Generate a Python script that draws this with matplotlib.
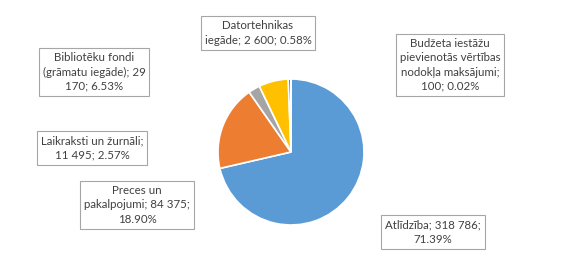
import matplotlib
matplotlib.use("Agg")
import matplotlib.pyplot as plt

# Budget structure (EUR)
categories = ["Atlīdzība", "Preces un pakalpojumi", "Laikraksti un žurnāli",
              "Bibliotēku fondi (grāmatu iegāde)", "Datortehnikas iegāde",
              "Budžeta iestāžu pievienotās vērtības nodokļa maksājumi"]
values = [318786, 84375, 11495, 29170, 2600, 100]
percents = ["71.39%", "18.90%", "2.57%", "6.53%", "0.58%", "0.02%"]
labels = [
    "Atlīdzība; 318 786;\n71.39%",
    "Preces un\npakalpojumi; 84 375;\n18.90%",
    "Laikraksti un žurnāli;\n11 495; 2.57%",
    "Bibliotēku fondi\n(grāmatu iegāde); 29\n170; 6.53%",
    "Datortehnikas\niegāde; 2 600; 0.58%",
    "Budžeta iestāžu\npievienotās vērtības\nnodokļa maksājumi;\n100; 0.02%",
]
colors = ["#5B9BD5", "#ED7D31", "#A5A5A5", "#FFC000", "#4472C4", "#70AD47"]

# label box centres in figure pixels (from top-left)
label_pos = [(433, 232), (137, 205), (92, 148), (94, 72), (258, 33), (450, 65)]

W, H = 576, 268
plt.rcParams["font.family"] = ["Lato", "DejaVu Sans"]
fig = plt.figure(figsize=(W / 100, H / 100), dpi=100)

cx, cy, r = 291, 152, 73
ax = fig.add_axes([(cx - r) / W, (H - cy - r) / H, 2 * r / W, 2 * r / H])
ax.pie(values, colors=colors, startangle=90, counterclock=False,
       wedgeprops=dict(edgecolor="white", linewidth=1.2))
ax.set_xlim(-1, 1)
ax.set_ylim(-1, 1)
ax.set_aspect("equal")
ax.axis("off")

for text, (px, py) in zip(labels, label_pos):
    fig.text(px / W, 1 - py / H, text, ha="center", va="center",
             fontsize=8.3, color="#404040", linespacing=1.35,
             bbox=dict(boxstyle="square,pad=0.35", facecolor="white",
                       edgecolor="#A6A6A6", linewidth=0.8))

fig.savefig("out.png", dpi=100)
